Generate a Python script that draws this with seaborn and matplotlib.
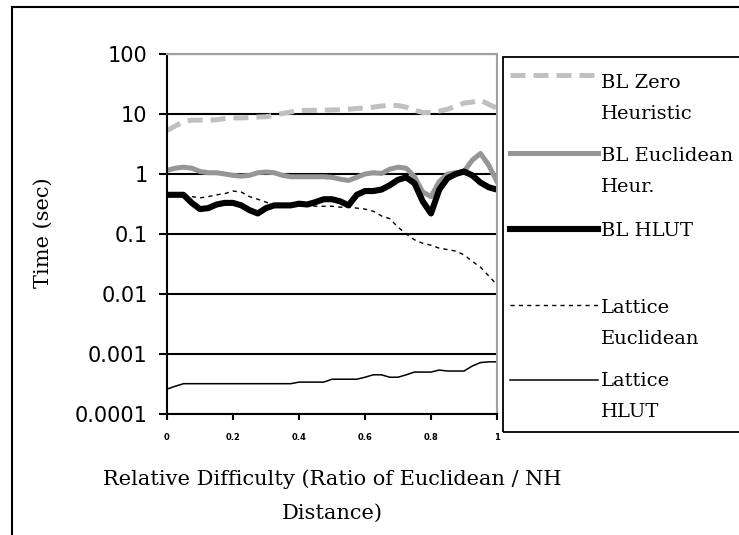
import numpy as np
import pandas as pd
import matplotlib
matplotlib.use("Agg")
import matplotlib.pyplot as plt
from matplotlib.lines import Line2D
from matplotlib.patches import Rectangle
from matplotlib.ticker import NullLocator
import seaborn as sns

# ---------------- data ----------------
x_vals = [0.0, 0.025, 0.05, 0.075, 0.1, 0.125, 0.15, 0.175, 0.2, 0.225,
          0.25, 0.275, 0.3, 0.325, 0.35, 0.375, 0.4, 0.425, 0.45, 0.475,
          0.5, 0.525, 0.55, 0.575, 0.6, 0.625, 0.65, 0.675, 0.7, 0.725,
          0.75, 0.775, 0.8, 0.825, 0.85, 0.875, 0.9, 0.925, 0.95, 0.975, 1.0]

bl_zero = [5.3, 6.3, 7.5, 7.9, 7.9, 7.9, 8.0, 8.4, 8.6, 8.6,
           8.7, 8.9, 9.0, 9.5, 10.2, 10.8, 11.3, 11.5, 11.5, 11.6,
           11.7, 11.8, 12.0, 12.4, 12.6, 13.0, 13.6, 14.0, 13.8, 13.0,
           11.5, 10.6, 10.6, 11.2, 12.0, 13.5, 15.2, 15.8, 17.0, 14.5, 12.5]

bl_euclid = [1.15, 1.25, 1.3, 1.25, 1.1, 1.05, 1.05, 1.0, 0.95, 0.92,
             0.95, 1.05, 1.08, 1.05, 0.95, 0.9, 0.9, 0.9, 0.9, 0.9,
             0.88, 0.82, 0.78, 0.88, 1.0, 1.05, 1.02, 1.2, 1.3, 1.25,
             0.9, 0.5, 0.42, 0.75, 1.0, 1.05, 1.1, 1.7, 2.2, 1.4, 0.75]

bl_hlut = [0.45, 0.45, 0.45, 0.33, 0.26, 0.27, 0.31, 0.33, 0.33, 0.3,
           0.25, 0.22, 0.27, 0.3, 0.3, 0.3, 0.32, 0.31, 0.34, 0.38,
           0.38, 0.35, 0.3, 0.45, 0.52, 0.52, 0.55, 0.65, 0.8, 0.88,
           0.7, 0.35, 0.22, 0.55, 0.85, 1.0, 1.1, 0.95, 0.72, 0.6, 0.55]

lat_euclid = [0.45, 0.45, 0.44, 0.42, 0.4, 0.42, 0.45, 0.47, 0.52, 0.5,
              0.42, 0.38, 0.34, 0.3, 0.3, 0.3, 0.3, 0.3, 0.29, 0.29,
              0.29, 0.28, 0.28, 0.27, 0.26, 0.24, 0.2, 0.18, 0.13, 0.1,
              0.08, 0.07, 0.065, 0.058, 0.055, 0.052, 0.045, 0.035, 0.028, 0.02, 0.0142]

lat_hlut = [0.00026, 0.00029, 0.00032, 0.00032, 0.00032, 0.00032, 0.00032, 0.00032, 0.00032, 0.00032,
            0.00032, 0.00032, 0.00032, 0.00032, 0.00032, 0.00032, 0.00034, 0.00034, 0.00034, 0.00034,
            0.00038, 0.00038, 0.00038, 0.00038, 0.00041, 0.00045, 0.00045, 0.00041, 0.00041, 0.00045,
            0.0005, 0.0005, 0.0005, 0.00054, 0.00052, 0.00052, 0.00052, 0.00063, 0.00072, 0.00074, 0.00074]

series_names = ["BL Zero\nHeuristic", "BL Euclidean\nHeur.", "BL HLUT",
                "Lattice\nEuclidean", "Lattice\nHLUT"]
series_values = [bl_zero, bl_euclid, bl_hlut, lat_euclid, lat_hlut]

y_ticks = [1e-4, 1e-3, 1e-2, 1e-1, 1, 10, 100]
y_tick_labels = ["0.0001", "0.001", "0.01", "0.1", "1", "10", "100"]
x_ticks = [0, 0.2, 0.4, 0.6, 0.8, 1]
x_tick_labels = ["0", "0.2", "0.4", "0.6", "0.8", "1"]

# ---------------- styles ----------------
styles = [
    dict(color="#c0c0c0", linewidth=3.6, linestyle=(0, (3.0, 1.6))),
    dict(color="#969696", linewidth=3.6, linestyle="-"),
    dict(color="black", linewidth=4.4, linestyle="-"),
    dict(color="black", linewidth=1.0, linestyle=(0, (3, 3))),
    dict(color="black", linewidth=1.1, linestyle="-"),
]

W, H = 739, 535
fig = plt.figure(figsize=(W / 100, H / 100), dpi=100)
ax = fig.add_axes([167 / W, 1 - 414 / H, 330 / W, 360 / H])

df = pd.DataFrame({"x": x_vals})
for name, vals, st in zip(series_names, series_values, styles):
    df[name] = vals
    sns.lineplot(data=df, x="x", y=name, ax=ax, **st)

ax.set_yscale("log")
ax.set_xlim(0, 1)
ax.set_ylim(1e-4, 100)
ax.set_yticks(y_ticks)
ax.set_yticklabels(y_tick_labels, fontsize=15, family="DejaVu Sans")
ax.yaxis.set_minor_locator(NullLocator())
ax.set_xticks(x_ticks)
ax.set_xticklabels(x_tick_labels, fontsize=6, fontweight="bold", family="DejaVu Sans")
ax.tick_params(axis="y", direction="out", length=6, width=1.5, pad=8)
ax.tick_params(axis="x", direction="out", length=4, width=1.5, pad=10)

ax.set_axisbelow(True)
ax.yaxis.grid(True, which="major", color="black", linewidth=1.5)
ax.xaxis.grid(False)
for s in ["left", "bottom"]:
    ax.spines[s].set_color("black")
    ax.spines[s].set_linewidth(1.5)
for s in ["top", "right"]:
    ax.spines[s].set_color("#a0a0a0")
    ax.spines[s].set_linewidth(1.5)

ax.set_xlabel("Relative Difficulty (Ratio of Euclidean / NH\nDistance)",
              fontsize=15, family="DejaVu Serif", linespacing=2.0)
ax.xaxis.set_label_coords(0.5, -(469 - 414) / 360)
ax.set_ylabel("Time (sec)", fontsize=15, family="DejaVu Serif")
ax.yaxis.set_label_coords((43 - 167) / 330, (414 - 233) / 360)
ax.yaxis.label.set_verticalalignment("center")

# figure border (cropped frame)
fig.add_artist(Line2D([12 / W, 12 / W], [0, 1 - 7 / H], transform=fig.transFigure,
                      color="black", linewidth=1.5))
fig.add_artist(Line2D([12 / W, 1], [1 - 7 / H, 1 - 7 / H], transform=fig.transFigure,
                      color="black", linewidth=1.5))

# legend box (cropped)
fig.add_artist(Rectangle((503 / W, 1 - 432 / H), 300 / W, (432 - 57) / H,
                         transform=fig.transFigure, fill=False, edgecolor="black",
                         linewidth=1.3, clip_on=False))
handle_y = [75, 153, 229, 305, 380]
text_y = [82, 155, 230, 307, 380]
for name, st, hy, ty in zip(series_names, styles, handle_y, text_y):
    fig.add_artist(Line2D([510 / W, 598 / W], [1 - hy / H, 1 - hy / H],
                          transform=fig.transFigure, **st))
    fig.text(601 / W, 1 - (ty - 8) / H, name, fontsize=14, family="DejaVu Serif",
             va="top", ha="left", linespacing=1.9)

fig.savefig("out.png", dpi=100)
